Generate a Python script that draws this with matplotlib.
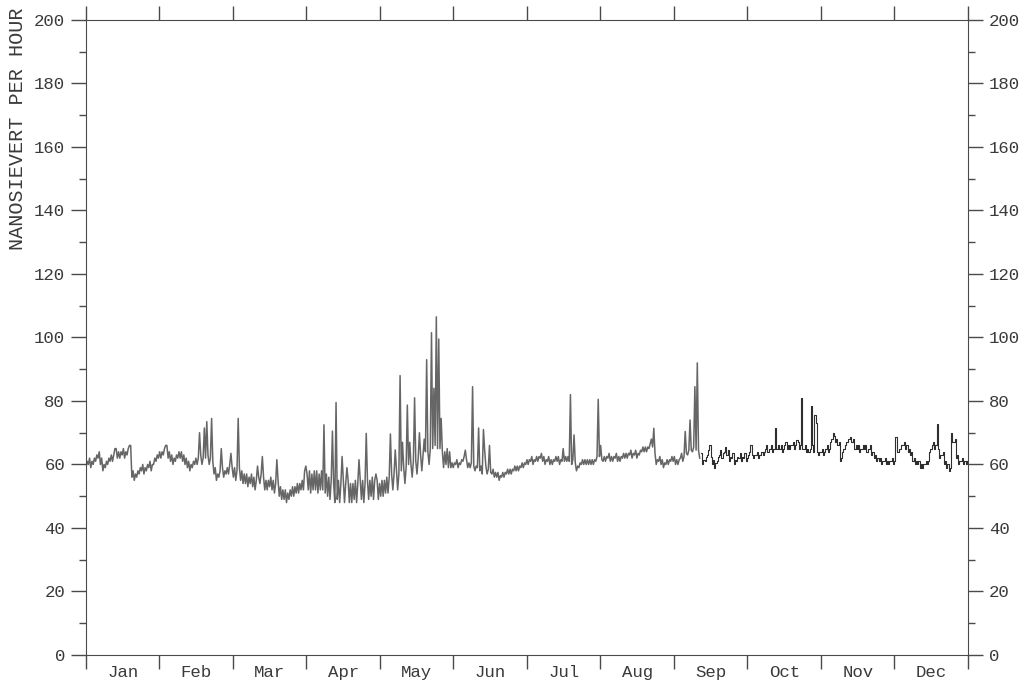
import numpy as np
import matplotlib
matplotlib.use("Agg")
import matplotlib.pyplot as plt

# ── Data ────────────────────────────────────────────────────────────────
months = ["Jan", "Feb", "Mar", "Apr", "May", "Jun",
          "Jul", "Aug", "Sep", "Oct", "Nov", "Dec"]

# daily lower envelope, nSv/h
jan = [59, 60, 59, 60, 61, 62, 60, 58, 59, 60, 61, 61, 63, 62, 62, 63, 62, 63, 64, 56,
       55, 56, 57, 58, 57, 58, 59, 58, 60, 61, 62]
feb = [62, 63, 64, 62, 61, 60, 61, 62, 62, 61, 60, 59, 58, 59, 60, 60, 61, 60, 60, 61,
       60, 59, 57, 55, 56, 57, 56, 57]
mar = [57, 56, 56, 55, 56, 55, 54, 54, 53, 54, 53, 52, 53, 54, 53, 52, 52, 53, 52, 51,
       52, 50, 49, 49, 48, 49, 50, 50, 51, 51, 52]
apr = [52, 51, 52, 51, 52, 52, 51, 52, 52, 51, 50, 49, 48, 48, 49, 48, 49, 48, 49, 48,
       48, 49, 48, 49, 49, 48, 49, 49, 50, 49]
may = [50, 49, 50, 50, 51, 51, 52, 52, 53, 52, 53, 54, 54, 55, 55, 56, 56, 57, 58, 58,
       59, 59, 60, 60, 61, 60, 60, 59, 59, 60, 59]
jun = [59, 59, 60, 59, 60, 61, 60, 59, 59, 58, 58, 59, 58, 57, 58, 57, 56, 57, 56, 56,
       55, 56, 56, 57, 57, 57, 58, 58, 58, 59]
jul = [59, 60, 60, 61, 60, 61, 61, 62, 61, 60, 61, 60, 60, 61, 61, 60, 61, 61, 61, 61,
       60, 59, 58, 59, 60, 60, 60, 60, 60, 60, 61]
aug = [61, 60, 61, 61, 62, 61, 61, 62, 61, 61, 62, 62, 62, 63, 62, 63, 62, 63, 64, 64,
       64, 65, 64, 62, 60, 61, 60, 59, 60, 60, 61]
sep = [61, 60, 60, 62, 61, 62, 63, 63, 64, 63, 63, 62, 60, 61, 63, 61, 60, 59, 61, 63,
       62, 64, 63, 61, 62, 60, 61, 62, 61, 62]
oct_ = [61, 63, 62, 62, 63, 62, 63, 63, 65, 64, 65, 64, 64, 65, 65, 64, 66, 65, 65, 66,
        65, 66, 65, 64, 65, 64, 64, 65, 64, 63, 63]
nov = [64, 63, 65, 64, 67, 68, 67, 66, 61, 64, 66, 67, 66, 67, 65, 65, 64, 65, 65, 64,
       65, 63, 62, 61, 61, 60, 61, 60, 60, 61]
dec = [60, 63, 64, 65, 66, 65, 64, 63, 61, 60, 60, 59, 59, 60, 60, 64, 66, 65, 64, 62,
       63, 60, 59, 58, 66, 67, 62, 60, 61, 60, 60]

# typical diurnal swing above the lower envelope, per month
month_swing = [2, 2, 3, 6, 5, 1.5, 1.5, 1.5, 1.5, 1, 1, 1]

# short-lived peaks: day of year, peak value
spike_days = [12, 18, 33, 47, 49, 50, 52, 56, 60, 63, 71, 73, 79,
              91, 98.5, 102, 103.5, 106, 108, 113, 116,
              120, 126, 128, 130, 131, 133, 134, 136, 138, 140, 141, 143, 144, 145, 146, 147,
              157, 160, 162.5, 164.5, 165, 167,
              197.5, 200.5, 202, 212, 213, 234, 235,
              248, 250, 252, 253, 258,
              275, 285, 294, 296, 300, 301.5, 302,
              309, 316, 335, 352, 358]
spike_peaks = [65, 66, 66, 70, 71.5, 73.5, 74.5, 65, 63.5, 74.5, 59.5, 62.5, 61.5,
               59.5, 72.5, 70.5, 79.5, 62.5, 59, 61.5, 69.8,
               57, 69.6, 64.6, 88, 67, 78.7, 67, 81, 70, 68, 93, 101.5, 84, 106.5, 99.5, 74.5,
               64.5, 84.5, 71.5, 71, 64.5, 66,
               65, 82, 69.3, 80.5, 66, 68, 71.4,
               70.4, 74, 84.5, 92, 66,
               66, 71.4, 67.7, 81, 78.5, 75.5, 73,
               70, 68.5, 68.5, 72.7, 69.8]

SPLIT_DAY = 254  # record changes from dense (grey) to coarse (black) trace here


def build_series():
    blocks = [jan, feb, mar, apr, may, jun, jul, aug, sep, oct_, nov, dec]
    base = np.concatenate([np.asarray(b, float) for b in blocks])
    swing = np.concatenate([np.full(len(b), s) for b, s in zip(blocks, month_swing)])
    days = np.arange(len(base), dtype=float)
    # two samples a day: lower envelope, then diurnal high
    x = np.ravel(np.column_stack([days, days + 0.5]))
    y = np.ravel(np.column_stack([base, base + swing]))
    for d, p in zip(spike_days, spike_peaks):
        i = int(round(d * 2))
        y[i] = max(y[i], p)
    return x, y


def main():
    plt.rcParams.update({
        "font.family": ["Liberation Mono", "DejaVu Sans Mono"],
        "font.size": 12.5,
        "text.color": "#3a3a3a",
        "axes.edgecolor": "#4a4a4a",
        "xtick.color": "#4a4a4a",
        "ytick.color": "#4a4a4a",
        "xtick.labelcolor": "#3a3a3a",
        "ytick.labelcolor": "#3a3a3a",
    })

    x, y = build_series()
    n_days = 365

    fig = plt.figure(figsize=(10.22, 6.88), dpi=100)
    ax = fig.add_axes([0.0841, 0.048, 0.863, 0.923])

    early = x <= SPLIT_DAY
    ax.plot(x[early], y[early], color="#666666", linewidth=1.1)
    ax.plot(x[~early], y[~early], color="#2e2e2e", linewidth=0.8,
            drawstyle="steps-post")

    ax.set_xlim(0, n_days)
    ax.set_ylim(0, 200)

    # month boundaries as ticks, names centred between them
    step = n_days / 12
    ax.set_xticks([k * step for k in range(13)])
    ax.set_xticklabels([])
    ax.set_xticks([(k + 0.5) * step for k in range(12)], minor=True)
    ax.set_xticklabels(months, minor=True)
    ax.tick_params(axis="x", which="major", direction="out", length=10, width=1,
                   top=True, bottom=True)
    ax.tick_params(axis="x", which="minor", length=0, pad=7)

    ax.set_yticks(np.arange(0, 201, 20))
    ax.set_yticks(np.arange(0, 201, 10), minor=True)
    ax.tick_params(axis="y", which="major", direction="out", length=11, width=1,
                   left=True, right=True, labelleft=True, labelright=True, pad=4)
    ax.tick_params(axis="y", which="minor", direction="out", length=5, width=1,
                   left=True, right=True)

    # axis title sits high on the left, not centred on the axis
    fig.text(18 / 1022, 1 - 129 / 688, "NANOSIEVERT PER HOUR", rotation=90,
             ha="center", va="center", fontsize=14.5)

    fig.savefig("out.png", dpi=100)
    plt.close(fig)


if __name__ == "__main__":
    main()
